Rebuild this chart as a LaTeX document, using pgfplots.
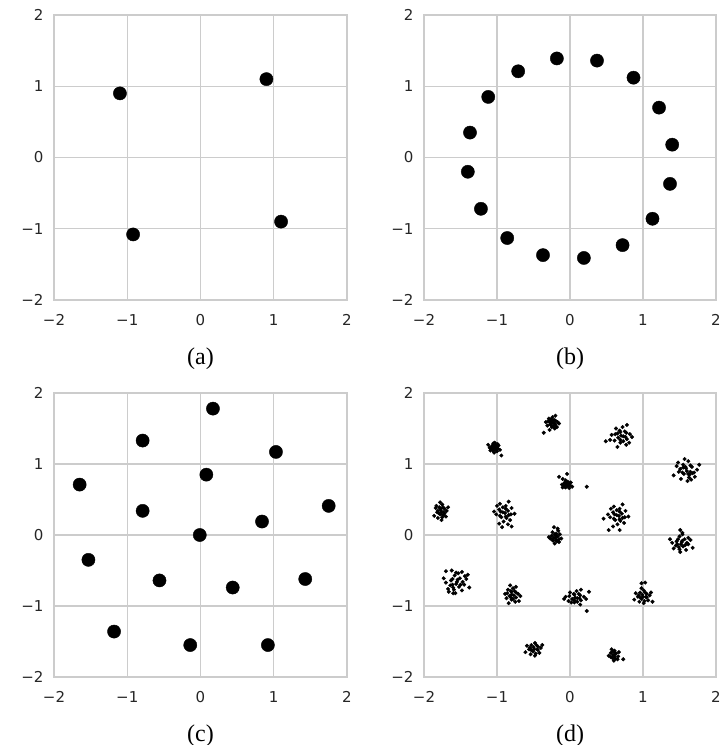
\documentclass[border=0pt]{standalone}
\usepackage{fontspec}
\setmainfont{Liberation Serif}
\newfontfamily\tickfont{DejaVu Sans}
\usepackage{pgfplots}
\pgfplotsset{compat=1.18}
\definecolor{gridgray}{gray}{0.8}
\definecolor{ticktext}{HTML}{262626}

\pgfplotsset{
  panel/.style={
    scale only axis, width=293pt, height=285pt,
    xmin=-2, xmax=2, ymin=-2, ymax=2,
    xtick={-2,-1,0,1,2}, ytick={-2,-1,0,1,2},
    xticklabels={−2,−1,0,1,2}, yticklabels={−2,−1,0,1,2},
    major tick length=0pt,
    grid=major,
    major grid style={gridgray, line width=1.3pt},
    axis line style={gridgray, line width=1.6pt},
    tick label style={font=\fontsize{15}{18}\selectfont\tickfont, text=ticktext},
    xticklabel style={yshift=-11pt},
    yticklabel style={xshift=-7pt},
  },
  bigdot/.style={only marks, mark=*, mark size=6.6pt, black},
  smalldot/.style={only marks, mark=*, mark size=1.8pt, black},
}

\begin{document}
\begin{tikzpicture}
\useasboundingbox (0pt,0pt) rectangle (723pt,745pt);

% (a)
\begin{axis}[panel, at={(54pt,445pt)}, anchor=south west]
\addplot[bigdot] coordinates {(-1.1,0.9) (0.9,1.1) (-0.92,-1.08) (1.1,-0.9)};
\end{axis}

% (b)
\begin{axis}[panel, at={(424pt,445pt)}, anchor=south west, width=292pt]
\addplot[bigdot] coordinates {
(-0.18,1.39) (0.37,1.36) (0.87,1.12) (1.22,0.70) (1.40,0.18) (1.37,-0.37)
(1.13,-0.86) (0.72,-1.23) (0.19,-1.41) (-0.37,-1.37) (-0.86,-1.13) (-1.22,-0.72)
(-1.40,-0.20) (-1.37,0.35) (-1.12,0.85) (-0.71,1.21)};
\end{axis}

% (c)
\begin{axis}[panel, at={(54pt,68pt)}, anchor=south west, height=284pt]
\addplot[bigdot] coordinates {
(0.17,1.78) (-0.79,1.33) (1.03,1.17) (0.08,0.85) (-1.65,0.71) (1.75,0.41)
(-0.79,0.34) (0.84,0.19) (-0.01,0.0) (-1.53,-0.35) (-0.56,-0.64) (0.44,-0.74)
(1.43,-0.62) (-1.18,-1.36) (-0.14,-1.55) (0.92,-1.55)};
\end{axis}

% (d)
\begin{axis}[panel, at={(424pt,68pt)}, anchor=south west, width=292pt, height=284pt]
\addplot[smalldot] table {
x y
-1.04 1.24
-1.07 1.25
-0.99 1.22
-1.05 1.19
-1.02 1.27
-1.10 1.23
-1.02 1.21
-1.05 1.29
-0.98 1.26
-1.08 1.21
-1.04 1.23
-1.00 1.18
-1.06 1.26
-1.03 1.30
-1.09 1.19
-1.00 1.24
-1.04 1.16
-1.01 1.22
-1.06 1.22
-0.96 1.20
-1.12 1.27
-1.03 1.25
-1.06 1.20
-0.99 1.28
-0.94 1.12
-0.23 1.58
-0.22 1.62
-0.25 1.52
-0.30 1.60
-0.20 1.55
-0.24 1.66
-0.27 1.56
-0.17 1.59
-0.21 1.50
-0.26 1.63
-0.25 1.58
-0.31 1.54
-0.20 1.61
-0.15 1.57
-0.29 1.64
-0.23 1.53
-0.33 1.59
-0.26 1.55
-0.25 1.61
-0.28 1.48
-0.20 1.68
-0.21 1.57
-0.28 1.60
-0.18 1.52
-0.36 1.44
-1.77 0.35
-1.72 0.37
-1.82 0.32
-1.75 0.25
-1.79 0.39
-1.69 0.34
-1.78 0.29
-1.75 0.43
-1.84 0.38
-1.72 0.30
-1.76 0.32
-1.81 0.24
-1.74 0.39
-1.78 0.46
-1.70 0.26
-1.81 0.34
-1.76 0.21
-1.80 0.31
-1.73 0.32
-1.86 0.27
-1.67 0.39
-1.77 0.37
-1.74 0.28
-1.83 0.41
-0.92 0.32
-0.94 0.25
-0.88 0.41
-0.81 0.29
-0.97 0.36
-0.91 0.19
-0.85 0.34
-1.01 0.29
-0.96 0.44
-0.87 0.24
-0.89 0.31
-0.80 0.38
-0.96 0.27
-1.04 0.33
-0.82 0.21
-0.92 0.39
-0.76 0.30
-0.88 0.37
-0.88 0.26
-0.84 0.47
-0.97 0.16
-0.95 0.33
-0.84 0.28
-1.00 0.41
-0.93 0.11
-0.80 0.12
-0.85 0.15
-0.05 0.72
-0.08 0.73
0.00 0.70
-0.06 0.67
-0.03 0.75
-0.11 0.71
-0.03 0.69
-0.06 0.77
0.01 0.74
-0.09 0.69
-0.05 0.71
-0.01 0.66
-0.07 0.74
-0.01 0.72
-0.10 0.67
-0.02 0.70
0.03 0.68
-0.07 0.68
0.23 0.68
-0.15 0.82
-0.04 0.86
-0.10 0.79
0.73 1.39
0.75 1.46
0.69 1.30
0.62 1.42
0.78 1.35
0.72 1.52
0.66 1.37
0.82 1.42
0.77 1.27
0.68 1.47
0.70 1.40
0.61 1.33
0.77 1.44
0.85 1.38
0.63 1.50
0.73 1.32
0.57 1.41
0.69 1.34
0.69 1.45
0.65 1.24
0.78 1.55
0.76 1.38
0.65 1.43
0.81 1.30
0.49 1.32
0.55 1.34
1.59 0.94
1.67 0.96
1.49 0.89
1.63 0.81
1.55 0.99
1.74 0.92
1.56 0.86
1.62 1.04
1.46 0.97
1.68 0.87
1.60 0.90
1.52 0.79
1.65 0.98
1.57 1.07
1.71 0.82
1.51 0.93
1.61 0.76
1.54 0.88
1.65 0.89
1.42 0.84
1.77 0.99
1.58 0.96
1.64 0.85
1.48 1.02
1.66 0.78
1.70 0.88
1.55 0.95
1.62 0.86
0.64 0.28
0.62 0.21
0.68 0.37
0.75 0.25
0.59 0.32
0.65 0.15
0.71 0.30
0.55 0.25
0.60 0.40
0.69 0.20
0.67 0.27
0.76 0.34
0.60 0.23
0.52 0.29
0.74 0.17
0.64 0.35
0.80 0.26
0.68 0.33
0.68 0.22
0.72 0.43
0.59 0.12
0.61 0.29
0.72 0.24
0.56 0.37
0.46 0.23
0.53 0.07
0.68 0.07
-1.55 -0.66
-1.63 -0.64
-1.45 -0.70
-1.59 -0.77
-1.51 -0.61
-1.70 -0.67
-1.52 -0.73
-1.58 -0.57
-1.42 -0.62
-1.64 -0.71
-1.56 -0.69
-1.48 -0.78
-1.61 -0.62
-1.53 -0.54
-1.67 -0.76
-1.47 -0.66
-1.57 -0.82
-1.50 -0.70
-1.61 -0.70
-1.38 -0.74
-1.73 -0.61
-1.54 -0.63
-1.60 -0.74
-1.44 -0.58
-1.70 -0.51
-1.62 -0.50
-1.48 -0.52
-1.40 -0.56
-1.56 -0.53
-1.66 -0.80
-1.60 -0.82
-0.77 -0.85
-0.76 -0.79
-0.80 -0.91
-0.86 -0.82
-0.74 -0.88
-0.78 -0.75
-0.83 -0.86
-0.71 -0.83
-0.75 -0.94
-0.81 -0.79
-0.80 -0.84
-0.87 -0.89
-0.74 -0.81
-0.68 -0.86
-0.85 -0.77
-0.78 -0.90
-0.89 -0.83
-0.81 -0.88
-0.80 -0.80
-0.84 -0.96
-0.74 -0.73
-0.82 -0.71
-0.70 -0.93
-0.50 -1.58
-0.44 -1.57
-0.56 -1.61
-0.47 -1.67
-0.53 -1.55
-0.40 -1.59
-0.51 -1.64
-0.48 -1.52
-0.59 -1.56
-0.44 -1.62
-0.49 -1.61
-0.54 -1.68
-0.46 -1.55
-0.42 -1.66
-0.55 -1.59
-0.48 -1.70
-0.53 -1.62
-0.45 -1.61
-0.61 -1.65
-0.38 -1.55
-0.22 -0.04
-0.23 -0.08
-0.19 0.02
-0.15 -0.06
-0.25 -0.01
-0.21 -0.12
-0.17 -0.02
-0.27 -0.05
-0.24 0.04
-0.18 -0.09
-0.20 -0.04
-0.14 0.01
-0.24 -0.07
-0.29 -0.03
-0.15 -0.10
-0.21 0.01
-0.12 -0.05
-0.19 -0.01
-0.19 -0.07
-0.16 0.06
-0.17 0.09
-0.22 0.11
1.53 -0.10
1.46 -0.09
1.62 -0.13
1.50 -0.20
1.57 -0.06
1.40 -0.11
1.55 -0.16
1.50 -0.02
1.65 -0.07
1.45 -0.15
1.52 -0.13
1.59 -0.21
1.48 -0.06
1.54 0.01
1.42 -0.19
1.60 -0.11
1.51 -0.24
1.58 -0.14
1.47 -0.13
1.68 -0.18
1.37 -0.06
1.54 -0.08
1.49 -0.17
1.62 -0.04
1.51 0.07
1.54 0.03
0.10 -0.89
0.12 -0.83
0.06 -0.95
-0.01 -0.86
0.15 -0.92
0.09 -0.79
0.03 -0.90
0.19 -0.87
0.14 -0.98
0.05 -0.83
0.07 -0.88
-0.02 -0.93
0.14 -0.85
0.22 -0.90
0.00 -0.81
0.10 -0.94
-0.06 -0.87
0.06 -0.92
0.06 -0.84
0.15 -0.77
0.13 -0.89
0.23 -1.07
0.26 -0.80
0.02 -0.95
-0.08 -0.90
0.99 -0.84
1.05 -0.83
0.93 -0.87
1.02 -0.93
0.96 -0.81
1.09 -0.85
0.98 -0.90
1.01 -0.78
0.90 -0.82
1.05 -0.88
1.00 -0.87
0.95 -0.94
1.03 -0.81
0.98 -0.75
1.07 -0.92
0.94 -0.85
1.01 -0.96
0.96 -0.88
1.04 -0.87
0.88 -0.91
1.11 -0.81
1.13 -0.94
1.03 -0.67
0.98 -0.68
0.59 -1.69
0.58 -1.73
0.61 -1.63
0.66 -1.71
0.56 -1.66
0.60 -1.77
0.63 -1.67
0.53 -1.70
0.57 -1.61
0.62 -1.74
0.61 -1.69
0.67 -1.65
0.56 -1.72
0.65 -1.75
0.59 -1.64
0.62 -1.66
0.61 -1.72
0.73 -1.75
};
\end{axis}

\node[font=\fontsize{24}{28}\selectfont] at (200.5pt,386.5pt) {(a)};
\node[font=\fontsize{24}{28}\selectfont] at (570pt,386.5pt) {(b)};
\node[font=\fontsize{24}{28}\selectfont] at (200.5pt,9.5pt) {(c)};
\node[font=\fontsize{24}{28}\selectfont] at (570pt,9.5pt) {(d)};
\end{tikzpicture}
\end{document}
